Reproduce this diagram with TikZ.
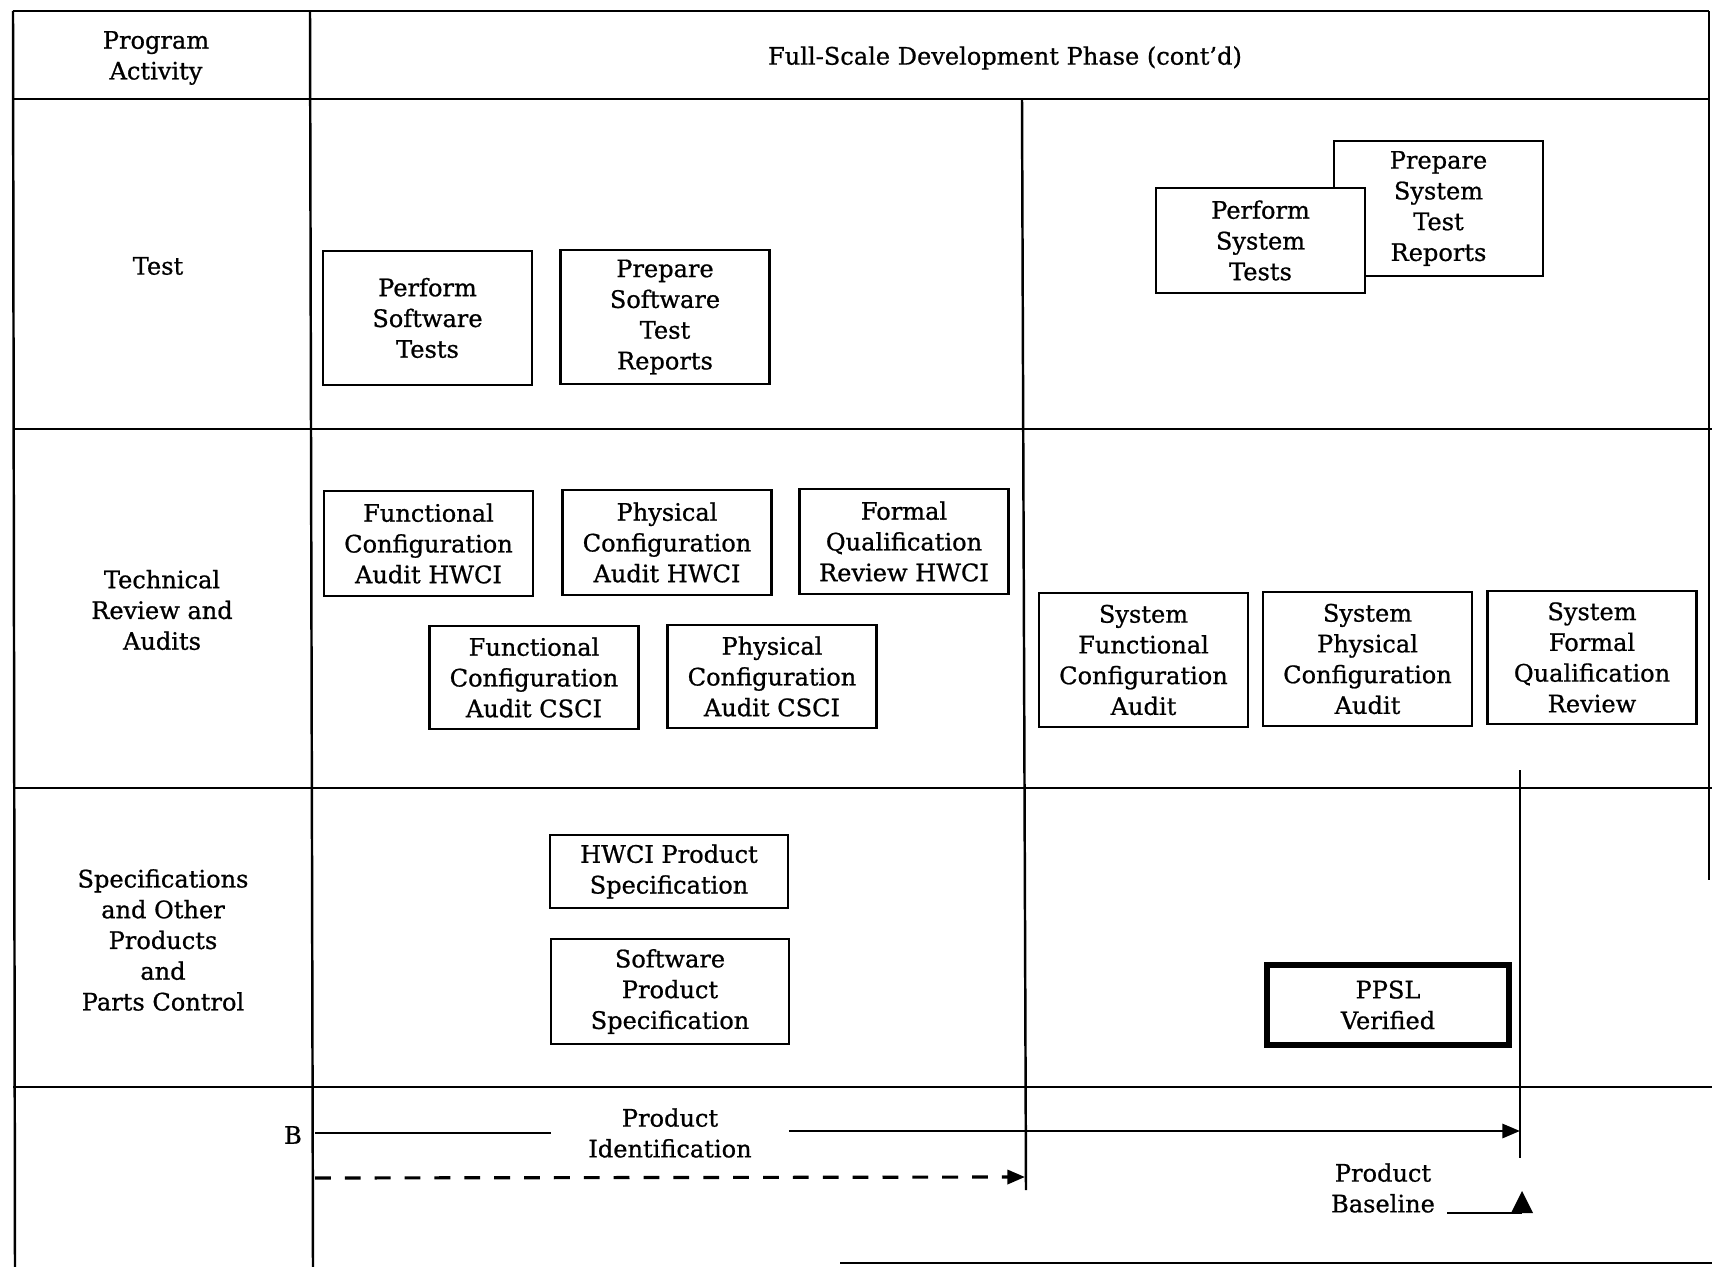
\documentclass[tikz,border=0pt]{standalone}
\usepackage{fontspec}
\setmainfont{DejaVu Serif}[RawFeature={embolden=0.8}]
\usetikzlibrary{arrows.meta}
\tikzset{task/.style={draw, line width=1.5pt, fill=white, align=center, inner sep=0pt, minimum width=4.18cm}}
\tikzset{rowlabel/.style={align=center}}

\begin{document}
\begin{tikzpicture}[x=0.02cm, y=-0.02cm, >={Triangle[length=10pt,width=8pt]},
		font=\fontsize{13.7}{17.5}\selectfont]

		\useasboundingbox (0,0) rectangle (1712,1267);

		% Grid
		\draw[line width=1.4pt] (13,11) -- (1709,11);
		\draw[line width=1.4pt] (13,99) -- (1709,99);
		\draw[line width=1.4pt] (13,429) -- (1712,429);
		\draw[line width=1.4pt] (13,788) -- (1712,788);
		\draw[line width=1.4pt] (13,1087) -- (1712,1087);
		\draw[line width=1.4pt] (840,1263) -- (1712,1263);
		\draw[line width=1.4pt] (13,11) -- (15,1267);
		\draw[line width=1.4pt] (310,11) -- (313,1267);
		\draw[line width=1.4pt] (1709,11) -- (1709,880);
		\draw[line width=1.4pt] (1022,99) -- (1026,1190);
		\draw[line width=1.5pt] (1520,770) -- (1520,1158);

		% Header and rows
		\node[rowlabel] (prog) at (156,58) {Program\\Activity};
		\node (phase) at (1005,58) {Full-Scale Development Phase (cont’d)};
		\node[rowlabel] (test) at (158,266) {Test};
		\node[rowlabel] (review) at (162,610) {Technical\\Review and\\Audits};
		\node[rowlabel] (specs) at (163,940) {Specifications\\and Other\\Products\\and\\Parts Control};
		\node (B) at (293,1135) {B};

		% Test
		\node[task, minimum height=2.68cm] (perfsw) at (427.5,318) {Perform\\Software\\Tests};
		\node[task, minimum height=2.68cm] (prepsw) at (665,317) {Prepare\\Software\\Test\\Reports};
		\node[task, minimum height=2.7cm] (prepsys) at (1438.5,208.5) {Prepare\\System\\Test\\Reports};
		\node[task, minimum height=2.1cm] (perfsys) at (1260.5,240.5) {Perform\\System\\Tests};

		% Technical reviews and audits
		\node[task, minimum height=2.1cm] (fcahw) at (428.5,543.5) {Functional\\Configuration\\Audit HWCI};
		\node[task, minimum height=2.1cm] (pcahw) at (667,542.5) {Physical\\Configuration\\Audit HWCI};
		\node[task, minimum height=2.1cm] (fqrhw) at (904,541.5) {Formal\\Qualification\\Review HWCI};
		\node[task, minimum height=2.06cm] (fcacs) at (534,677.5) {Functional\\Configuration\\Audit CSCI};
		\node[task, minimum height=2.06cm] (pcacs) at (772,676.5) {Physical\\Configuration\\Audit CSCI};
		\node[task, minimum height=2.68cm] (sysfca) at (1143.5,660) {System\\Functional\\Configuration\\Audit};
		\node[task, minimum height=2.68cm] (syspca) at (1367.5,659) {System\\Physical\\Configuration\\Audit};
		\node[task, minimum height=2.66cm] (sysfqr) at (1592,657.5) {System\\Formal\\Qualification\\Review};

		% Specifications
		\node[task, minimum width=4.76cm, minimum height=1.46cm] (hwspec) at (669,871.5) {HWCI Product\\Specification};
		\node[task, minimum width=4.76cm, minimum height=2.1cm] (swspec) at (670,991.5) {Software\\Product\\Specification};
		\node[task, line width=3.5pt, minimum width=4.84cm, minimum height=1.6cm] (ppsl) at (1388,1005) {PPSL\\Verified};

		% Baselines
		\coordinate (pidstart) at (315,1133);
		\coordinate (pidend) at (1520,1131);
		\coordinate (dashstart) at (315,1178);
		\coordinate (dashend) at (1025,1177);
		\node[align=center, minimum width=4.74cm] (pid) at (670,1133) {Product\\Identification};
		\draw[line width=1.5pt] (pidstart) -- (pid.west |- pidstart);
		\draw[line width=1.5pt, ->] (pid.east |- pidend) -- (pidend);
		\draw[line width=1.8pt, dash pattern=on 9pt off 8pt, ->] (dashstart) -- (dashend);

		\node[align=center] (pbase) at (1383,1188) {Product\\Baseline};
		\coordinate (tri) at (1522,1213);
		\draw[line width=1.5pt] (1447,1213) -- (tri);
		\fill (1511,1213) -- (1522,1191) -- (1533,1213) -- cycle;

	\end{tikzpicture}
\end{document}
